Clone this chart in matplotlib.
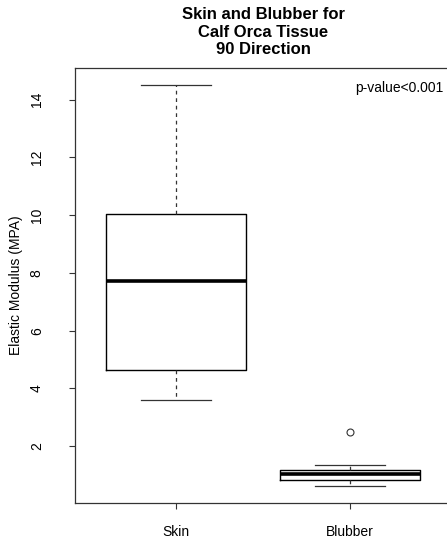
import matplotlib
matplotlib.use("Agg")
import matplotlib.pyplot as plt

plt.rcParams["font.family"] = ["Liberation Sans", "DejaVu Sans"]

# values
groups = ["Skin", "Blubber"]
whisker_low = [3.59, 0.61]
q1 = [4.63, 0.81]
medians = [7.72, 1.02]
q3 = [10.05, 1.17]
whisker_high = [14.52, 1.35]
outliers = [[], [2.49]]

stats = []
for i, name in enumerate(groups):
    stats.append(
        {
            "label": name,
            "whislo": whisker_low[i],
            "q1": q1[i],
            "med": medians[i],
            "q3": q3[i],
            "whishi": whisker_high[i],
            "fliers": outliers[i],
        }
    )

fig = plt.figure(figsize=(4.47, 5.37), dpi=100)
ax = fig.add_axes([75 / 447, 1 - 503 / 537, 376 / 447, 435 / 537])

ax.bxp(
    stats,
    positions=[1, 2],
    widths=0.8,
    showfliers=True,
    boxprops=dict(color="black", linewidth=1.0),
    medianprops=dict(color="black", linewidth=2.6),
    whiskerprops=dict(color="#333333", linewidth=0.9, linestyle=(0, (3, 3))),
    capprops=dict(color="#333333", linewidth=0.9),
    capwidths=0.4,
    flierprops=dict(
        marker="o",
        markersize=5,
        markerfacecolor="white",
        markeredgecolor="#333333",
        markeredgewidth=0.8,
    ),
)

ax.set_xlim(0.42, 2.58)
ax.set_ylim(0.03, 15.1)
ax.set_yticks([2, 4, 6, 8, 10, 12, 14])
ax.set_xticks([1, 2])
ax.set_xticklabels(groups)

for label in ax.get_yticklabels():
    label.set_rotation(90)
    label.set_va("center")

ax.tick_params(axis="both", labelsize=10, length=4.5, width=0.8, color="#333333")
ax.tick_params(axis="y", pad=18)
ax.tick_params(axis="x", pad=11)

for side in ["left", "bottom", "top", "right"]:
    ax.spines[side].set_color("#333333")
    ax.spines[side].set_linewidth(0.9)

ax.set_ylabel("Elastic Modulus (MPA)", fontsize=10, labelpad=5)

ax.set_title(
    "Skin and Blubber for\nCalf Orca Tissue\n90 Direction",
    fontsize=12,
    fontweight="bold",
    linespacing=1.2,
    pad=10,
)

fig.text(443 / 447, 1 - 88 / 537, "p-value<0.001", ha="right", va="center", fontsize=10)

fig.savefig("out.png", dpi=100)
